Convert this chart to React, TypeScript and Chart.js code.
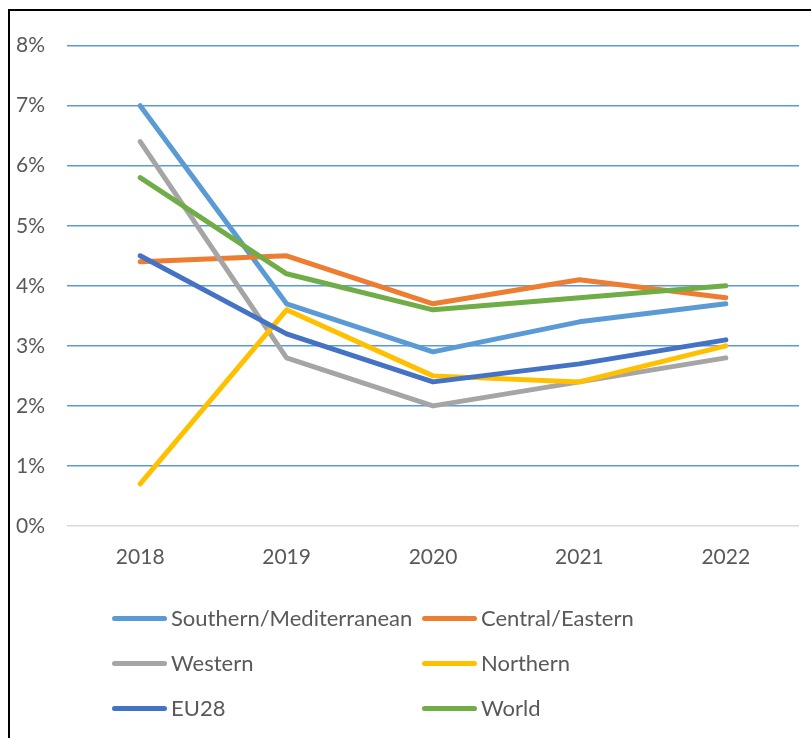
import React, { useEffect, useRef } from "react";
import { Chart, registerables } from "chart.js";

Chart.register(...registerables);

const years = ["2018", "2019", "2020", "2021", "2022"];
const seriesNames = ["Southern/Mediterranean", "Central/Eastern", "Western", "Northern", "EU28", "World"];
const seriesColors = ["#5b9bd5", "#ed7d31", "#a5a5a5", "#ffc000", "#4472c4", "#70ad47"];
const southern = [7.0, 3.7, 2.9, 3.4, 3.7];
const central = [4.4, 4.5, 3.7, 4.1, 3.8];
const western = [6.4, 2.8, 2.0, 2.4, 2.8];
const northern = [0.7, 3.6, 2.5, 2.4, 3.0];
const eu28 = [4.5, 3.2, 2.4, 2.7, 3.1];
const world = [5.8, 4.2, 3.6, 3.8, 4.0];
const seriesValues = [southern, central, western, northern, eu28, world];

const FONT = "Lato, 'Noto Sans', sans-serif";
const TEXT = "#595959";

export default function App() {
  const ref = useRef<HTMLCanvasElement | null>(null);
  useEffect(() => {
    if (!ref.current) return;
    const chart = new Chart(ref.current, {
      type: "line",
      data: {
        labels: years,
        datasets: seriesNames.map((name, i) => ({
          label: name,
          data: seriesValues[i],
          borderColor: seriesColors[i],
          backgroundColor: seriesColors[i],
          borderWidth: 5,
          pointRadius: 0,
          borderCapStyle: "round" as const,
          borderJoinStyle: "round" as const,
          tension: 0,
          order: seriesNames.length - i,
        })),
      },
      options: {
        responsive: false,
        animation: false,
        layout: { padding: { left: 0, right: 12, top: 32, bottom: 162 } },
        plugins: { legend: { display: false }, tooltip: { enabled: false } },
        scales: {
          x: {
            offset: true,
            grid: { display: false, drawTicks: false },
            border: { display: false },
            ticks: { color: TEXT, font: { family: FONT, size: 21 }, padding: 19 },
            afterFit: (s: any) => { s.height = 50; },
          },
          y: {
            min: 0,
            max: 8,
            grid: {
              color: (c: any) => (c.tick && c.tick.value === 0 ? "#d9d9d9" : "#5b9bd5"),
              lineWidth: 1.5,
              drawTicks: false,
            },
            border: { display: false },
            ticks: {
              stepSize: 1,
              color: TEXT,
              font: { family: FONT, size: 21 },
              padding: 22,
              callback: (v: any) => v + "%",
            },
            afterFit: (s: any) => { s.width = 57; },
          },
        },
      },
    });
    return () => chart.destroy();
  }, []);

  const rows = [0, 1, 2];
  return (
    <div
      style={{
        position: "fixed",
        left: 8,
        top: 9,
        width: 803,
        height: 729,
        borderTop: "2px solid #000",
        borderLeft: "2px solid #000",
        background: "#fff",
      }}
    >
      <canvas ref={ref} width={801} height={727} style={{ display: "block", width: 801, height: 727 }} />
      {seriesNames.map((name, i) => {
        const row = rows[Math.floor(i / 2)];
        const col = i % 2;
        const cy = 607 + row * 45;
        const mx = col === 0 ? 102 : 412;
        return (
          <React.Fragment key={name}>
            <div
              style={{
                position: "absolute",
                left: mx,
                top: cy - 2.5,
                width: 55,
                height: 5,
                borderRadius: 3,
                background: seriesColors[i],
              }}
            />
            <div
              style={{
                position: "absolute",
                left: mx + 59,
                top: cy - 15,
                height: 30,
                lineHeight: "30px",
                fontFamily: FONT,
                fontSize: 22,
                color: TEXT,
                whiteSpace: "nowrap",
              }}
            >
              {name}
            </div>
          </React.Fragment>
        );
      })}
    </div>
  );
}
